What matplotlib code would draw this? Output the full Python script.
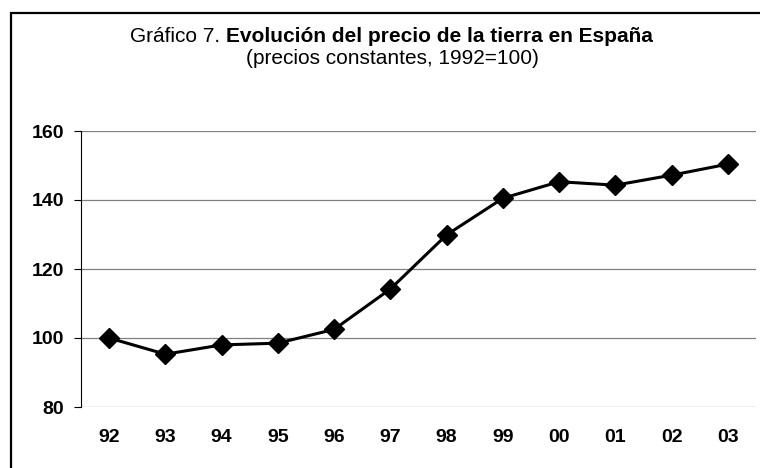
import matplotlib
matplotlib.use("Agg")
import matplotlib.pyplot as plt
from matplotlib.patches import Rectangle

plt.rcParams["font.family"] = ["Liberation Sans", "DejaVu Sans"]

# Datos: índice del precio de la tierra (precios constantes, 1992=100)
years = ["92", "93", "94", "95", "96", "97", "98", "99", "00", "01", "02", "03"]
index_values = [100, 95.3, 98.0, 98.5, 102.5, 114.2, 129.9, 140.5, 145.3, 144.3, 147.2, 150.4]
y_ticks = [80, 100, 120, 140, 160]

fig = plt.figure(figsize=(7.6, 4.68), dpi=100)

# Marco exterior (solo se ven los bordes superior e izquierdo)
frame = Rectangle((10.5 / 760, -0.5), 1.5, 1.5 - 12.5 / 468,
                  transform=fig.transFigure, fill=False,
                  edgecolor="black", linewidth=1.6, clip_on=False)
fig.patches.append(frame)

ax = fig.add_axes([81 / 760, 1 - 407 / 468, (756 - 81) / 760, (407 - 131) / 468])

x = list(range(len(years)))
ax.plot(x, index_values, color="black", linewidth=2.2, marker="D",
        markersize=10, zorder=3)

ax.set_xlim(-0.5, len(years) - 0.5)
ax.set_ylim(80, 160)
ax.set_yticks(y_ticks)
ax.set_xticks(x)
ax.set_xticklabels(years)
ax.grid(axis="y", color="#808080", linewidth=0.9)
ax.set_axisbelow(True)

for side in ["top", "right", "bottom"]:
    ax.spines[side].set_visible(False)
ax.spines["left"].set_linewidth(0.8)

ax.tick_params(axis="y", direction="out", length=5, width=0.8, pad=7,
               labelsize=14)
ax.tick_params(axis="x", length=0, pad=16, labelsize=14)
for lbl in ax.get_xticklabels() + ax.get_yticklabels():
    lbl.set_fontweight("bold")

# Título con parte normal y parte en negrita
fig.canvas.draw()
renderer = fig.canvas.get_renderer()
t1 = fig.text(0, 1 - 37 / 468, "Gráfico 7. ", fontsize=15, va="center")
t2 = fig.text(0, 1 - 37 / 468, "Evolución del precio de la tierra en España",
              fontsize=15, fontweight="bold", va="center")
w1 = t1.get_window_extent(renderer).width
w2 = t2.get_window_extent(renderer).width
x0 = 391 - (w1 + w2) / 2
t1.set_x(x0 / 760)
t2.set_x((x0 + w1) / 760)
fig.text(392 / 760, 1 - 58 / 468, "(precios constantes, 1992=100)",
         fontsize=15, ha="center", va="center")

fig.savefig("out.png", dpi=100)
